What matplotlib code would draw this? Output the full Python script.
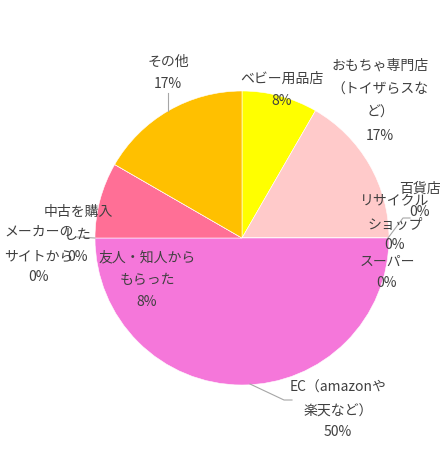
import matplotlib
matplotlib.use("Agg")
import matplotlib.pyplot as plt

plt.rcParams['font.family'] = ['Noto Sans CJK JP', 'DejaVu Sans']

# Data (counts; shown as rounded percentages)
categories = ["ベビー用品店", "おもちゃ専門店\n（トイザらスな\nど）", "百貨店", "リサイクル\nショップ",
              "スーパー", "EC（amazonや\n楽天など）", "友人・知人から\nもらった", "メーカーの\nサイトから",
              "中古を購入\nした", "その他"]
values = [1, 2, 0, 0, 0, 6, 1, 0, 0, 2]
colors = ["#FFFF00", "#FFCACA", "#C0C0C0", "#C0C0C0", "#C0C0C0", "#F577DA", "#FF6F96",
          "#C0C0C0", "#C0C0C0", "#FFC000"]

W, H = 446, 453
CX, CY, R = 242, 238, 147

fig = plt.figure(figsize=(W / 100, H / 100), dpi=100)
ax = fig.add_axes([0, 0, 1, 1])

total = sum(values)
ax.pie(values, colors=colors, startangle=90, counterclock=False, radius=1,
       wedgeprops=dict(edgecolor="#FFFFFF", linewidth=0.4))
ax.set_xlim(-CX / R, (W - CX) / R)
ax.set_ylim((CY - H) / R, CY / R)
ax.set_aspect('auto')
ax.axis('off')


def P(x, y):
    return ((x - CX) / R, (CY - y) / R)


pcts = [f"{round(v / total * 100)}%" for v in values]
tc = "#404040"
fs = 10

# label positions (pixel space): center x, line y positions, percentage y
layout = {
    0: (282, [79], 101),
    1: (380, [66, 90, 113], 136),
    2: (420, [189], 212),
    3: (395, [200, 225], 245),
    4: (387, [262], 283),
    5: (338, [388, 412], 432),
    6: (147, [257, 280], 302),
    7: (39, [232, 257], 277),
    8: (78, [212, 235], 257),
    9: (168, [62], 84),
}
for i, (x, ys, yp) in layout.items():
    lines = categories[i].split("\n")
    for ln, y in zip(lines, ys):
        ax.text(*P(x, y), ln, ha="center", va="center", fontsize=fs, color=tc)
    ax.text(*P(x, yp), pcts[i], ha="center", va="center", fontsize=fs, color=tc)

# leader lines
lc = "#A6A6A6"
leaders = [
    [(168, 93), (168, 111)],
    [(388, 238), (403, 218), (410, 218)],
    [(250, 384), (284, 400), (292, 400)],
    [(77, 237), (95, 238)],
]
for pts in leaders:
    xs, ys = zip(*[P(x, y) for x, y in pts])
    ax.plot(xs, ys, color=lc, linewidth=0.8)

fig.savefig("out.png", dpi=100)
